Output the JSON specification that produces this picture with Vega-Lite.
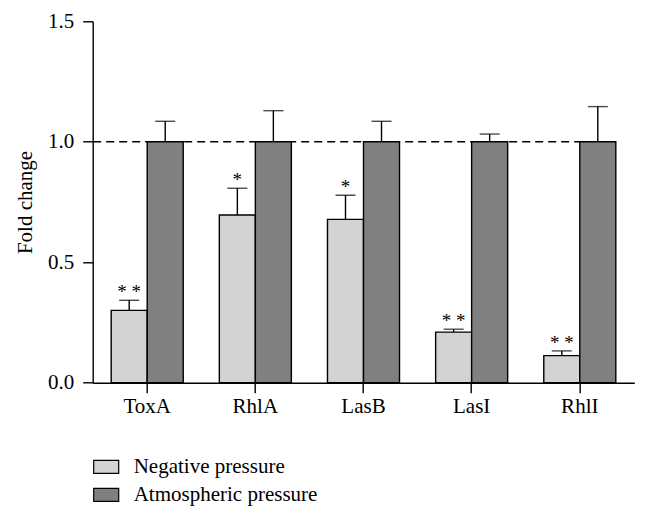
{
  "$schema": "https://vega.github.io/schema/vega-lite/v6.json",
  "autosize": {"type": "none"},
  "padding": {"left": 92.7, "top": 21.3, "right": 13.7, "bottom": 139.3},
  "width": 541.6,
  "height": 361.4,
  "background": "white",
  "config": {
    "font": "Liberation Serif",
    "view": {"stroke": null},
    "axis": {
      "domainColor": "black", "domainWidth": 1.4, "tickColor": "black", "tickWidth": 1.4,
      "tickSize": 10, "labelColor": "black", "labelFontSize": 21, "labelFont": "Liberation Serif",
      "titleFont": "Liberation Serif", "titleColor": "black", "titleFontWeight": "normal", "titleFontSize": 21, "grid": false
    }
  },
  "data": {
    "values": [
      {"gene": "ToxA", "condition": "Negative pressure", "value": 0.30, "upper": 0.342, "sig": "* *"},
      {"gene": "ToxA", "condition": "Atmospheric pressure", "value": 1.0, "upper": 1.085, "sig": ""},
      {"gene": "RhlA", "condition": "Negative pressure", "value": 0.696, "upper": 0.807, "sig": "*"},
      {"gene": "RhlA", "condition": "Atmospheric pressure", "value": 1.0, "upper": 1.129, "sig": ""},
      {"gene": "LasB", "condition": "Negative pressure", "value": 0.678, "upper": 0.778, "sig": "*"},
      {"gene": "LasB", "condition": "Atmospheric pressure", "value": 1.0, "upper": 1.085, "sig": ""},
      {"gene": "LasI", "condition": "Negative pressure", "value": 0.21, "upper": 0.222, "sig": "* *"},
      {"gene": "LasI", "condition": "Atmospheric pressure", "value": 1.0, "upper": 1.032, "sig": ""},
      {"gene": "RhlI", "condition": "Negative pressure", "value": 0.1125, "upper": 0.132, "sig": "* *"},
      {"gene": "RhlI", "condition": "Atmospheric pressure", "value": 1.0, "upper": 1.146, "sig": ""}
    ]
  },
  "layer": [
    {
      "data": {"values": [{"ref": 1}]},
      "mark": {"type": "rule", "strokeDash": [8, 5], "color": "black", "strokeWidth": 1.4},
      "encoding": {
        "x": {"datum": "ToxA", "type": "nominal", "bandPosition": -0.25},
        "x2": {"datum": "RhlI", "bandPosition": 1},
        "y": {"field": "ref", "type": "quantitative"}
      }
    },
    {
      "mark": {"type": "rule", "color": "black", "strokeWidth": 1.4},
      "encoding": {
        "x": {"field": "gene", "type": "nominal", "sort": ["ToxA", "RhlA", "LasB", "LasI", "RhlI"]},
        "xOffset": {"field": "condition", "sort": ["Negative pressure", "Atmospheric pressure"]},
        "y": {"field": "value", "type": "quantitative"},
        "y2": {"field": "upper"}
      }
    },
    {
      "mark": {"type": "tick", "color": "black", "thickness": 1.4, "size": 20, "orient": "horizontal"},
      "encoding": {
        "x": {"field": "gene", "type": "nominal", "sort": ["ToxA", "RhlA", "LasB", "LasI", "RhlI"]},
        "xOffset": {"field": "condition", "sort": ["Negative pressure", "Atmospheric pressure"]},
        "y": {"field": "upper", "type": "quantitative"}
      }
    },
    {
      "mark": {"type": "bar", "stroke": "black", "strokeWidth": 1.4},
      "encoding": {
        "x": {
          "field": "gene", "type": "nominal", "sort": ["ToxA", "RhlA", "LasB", "LasI", "RhlI"],
          "scale": {"paddingInner": 0.334, "paddingOuter": 0.171},
          "axis": {"title": null, "labelAngle": 0, "labelAlign": "center", "bandPosition": 0.5, "labelPadding": 14}
        },
        "xOffset": {
          "field": "condition", "sort": ["Negative pressure", "Atmospheric pressure"],
          "scale": {"paddingInner": 0, "paddingOuter": 0}
        },
        "y": {
          "field": "value", "type": "quantitative",
          "scale": {"domain": [0, 1.5], "nice": false},
          "axis": {"values": [0, 0.5, 1, 1.5], "format": ".1f", "title": "Fold change", "labelPadding": 9, "titlePadding": 12}
        },
        "color": {
          "field": "condition", "type": "nominal",
          "sort": ["Negative pressure", "Atmospheric pressure"],
          "scale": {"domain": ["Negative pressure", "Atmospheric pressure"], "range": ["#d3d3d3", "#808080"]},
          "legend": {
            "title": null, "orient": "none", "legendX": 0, "legendY": 432, "direction": "vertical",
            "symbolType": "M-1,-0.52H1V0.52H-1Z", "symbolSize": 625, "symbolStrokeColor": "black",
            "symbolStrokeWidth": 1.2, "symbolOpacity": 1, "labelFontSize": 21, "labelColor": "black",
            "labelFont": "Liberation Serif", "labelOffset": 14, "rowPadding": 4, "labelLimit": 400
          }
        }
      }
    },
    {
      "mark": {"type": "text", "fontSize": 19, "color": "black", "baseline": "alphabetic", "dy": -2},
      "encoding": {
        "x": {"field": "gene", "type": "nominal", "sort": ["ToxA", "RhlA", "LasB", "LasI", "RhlI"]},
        "xOffset": {"field": "condition", "sort": ["Negative pressure", "Atmospheric pressure"]},
        "y": {"field": "upper", "type": "quantitative"},
        "text": {"field": "sig"}
      }
    }
  ]
}
